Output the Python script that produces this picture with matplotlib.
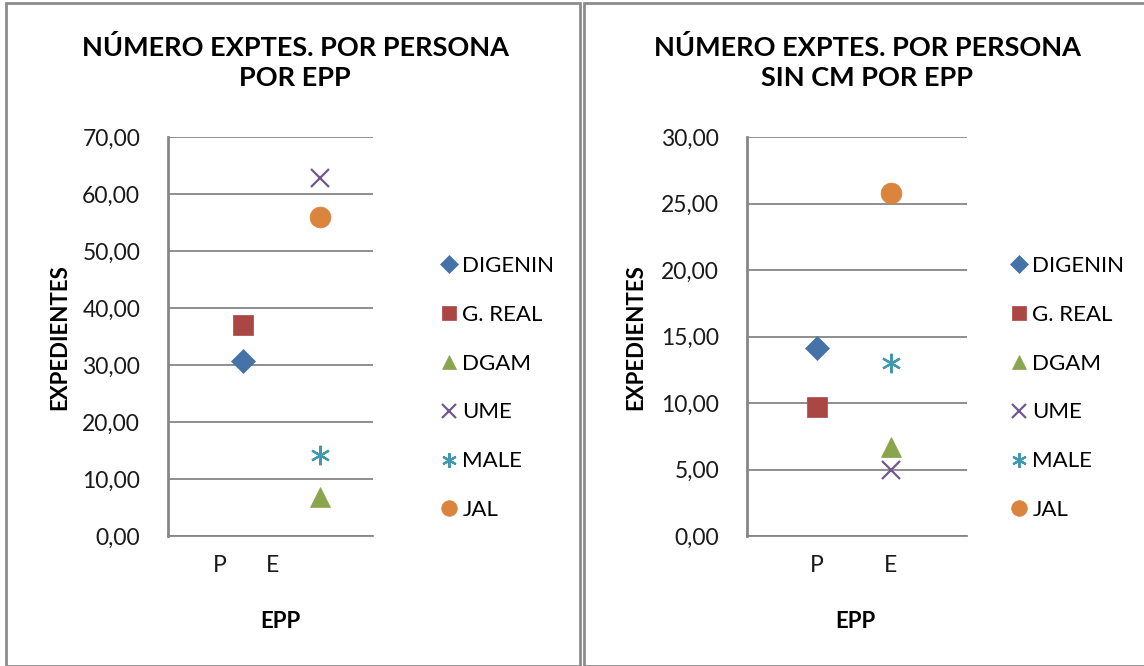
import matplotlib.pyplot as plt
from matplotlib.patches import Rectangle

# data
series = ["DIGENIN", "G. REAL", "DGAM", "UME", "MALE", "JAL"]
epp_group = [1, 1, 2, 2, 2, 2]  # 1 = P, 2 = E
left_values = [30.7, 37.0, 6.8, 62.8, 14.2, 56.0]
right_values = [14.1, 9.7, 6.7, 5.0, 13.0, 25.8]
left_title = "NÚMERO EXPTES. POR PERSONA\nPOR EPP"
right_title = "NÚMERO EXPTES. POR PERSONA\nSIN CM POR EPP"
x_labels = ["P", "E"]

colors = ["#4572A7", "#AA4643", "#89A54E", "#71588F", "#4198AF", "#DB843D"]
markers = ["D", "s", "^", "x", (6, 2, 0), "o"]
msizes = [12, 14, 14, 13, 14, 15]

plt.rcParams["font.family"] = ["Lato", "DejaVu Sans"]

fig = plt.figure(figsize=(11.44, 6.66), dpi=100)
W, H = 1144, 666

# panel borders
fig.patches.append(Rectangle((6 / W, 0), (580 - 6) / W, 1 - 3 / H, transform=fig.transFigure,
                             fill=False, edgecolor="#8c8c8c", linewidth=2))
fig.patches.append(Rectangle((584 / W, 0), 600 / W, 1 - 3 / H, transform=fig.transFigure,
                             fill=False, edgecolor="#8c8c8c", linewidth=2))

grid_c = "#868686"


def panel(rect, values, ymax, ystep, xlim, xticks, title, title_x, xlabel_x, ylabel_x, leg_x):
    ax = fig.add_axes(rect)
    for i, name in enumerate(series):
        m = markers[i]
        ax.plot(epp_group[i], values[i], linestyle="none", marker=m, color=colors[i],
                markersize=msizes[i], markeredgewidth=1.6 if m in ("x", (6, 2, 0)) else 0.5,
                label=name, zorder=3)
    ax.set_ylim(0, ymax)
    ax.set_xlim(*xlim)
    ticks = [k * ystep for k in range(int(round(ymax / ystep)) + 1)]
    ax.set_yticks(ticks)
    ax.set_yticklabels([f"{t:.2f}".replace(".", ",") for t in ticks])
    ax.set_xticks(xticks)
    ax.set_xticklabels(x_labels)
    ax.yaxis.grid(True, color=grid_c, linewidth=1.3)
    ax.set_axisbelow(True)
    for s in ["top", "right"]:
        ax.spines[s].set_visible(False)
    ax.spines["bottom"].set_color(grid_c)
    ax.spines["bottom"].set_linewidth(1.3)
    ax.spines["left"].set_color(grid_c)
    ax.spines["left"].set_linewidth(2)
    ax.tick_params(axis="both", length=0, labelsize=16.5, colors="#1a1a1a")
    ax.tick_params(axis="y", pad=20)
    ax.tick_params(axis="x", pad=14)
    fig.text(title_x / W, 1 - 63 / H, title, ha="center", va="center", fontsize=19.5,
             fontweight="bold", linespacing=1.3)
    fig.text(ylabel_x / W, 1 - 337 / H, "EXPEDIENTES", rotation=90,
             ha="center", va="center", fontsize=16, fontweight="bold")
    fig.text(xlabel_x / W, 1 - 622 / H, "EPP", ha="center", va="center", fontsize=16,
             fontweight="bold")
    ax.legend(loc="center left", bbox_to_anchor=(leg_x / W, 1 - 388 / H),
              bbox_transform=fig.transFigure, frameon=False, fontsize=16,
              labelspacing=1.3, handletextpad=0.05, handlelength=1.1, markerscale=0.75,
              borderaxespad=0)
    return ax


panel([168 / W, 1 - 536 / H, 205 / W, 399 / H], left_values, 70, 10,
      (0.026, 2.69), [0.70, 1.39], left_title, 295, 280, 60, 428)
panel([747 / W, 1 - 536 / H, 220 / W, 399 / H], right_values, 30, 5,
      (0.054, 3.03), [1, 2], right_title, 867, 855, 636, 998)

fig.savefig("out.png", dpi=100)
